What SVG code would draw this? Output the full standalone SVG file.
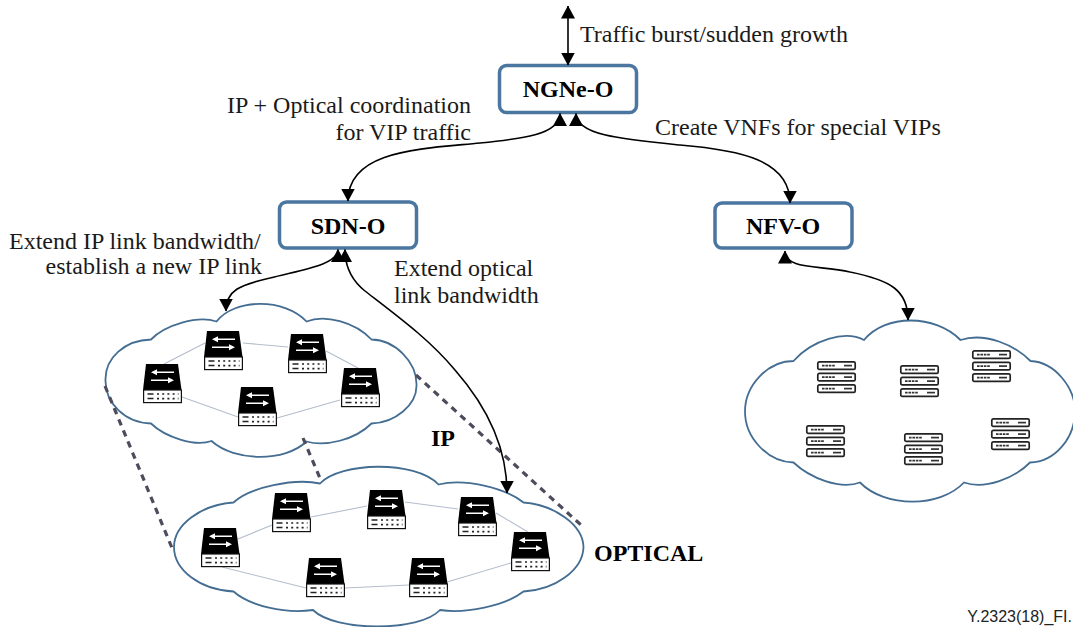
<svg xmlns="http://www.w3.org/2000/svg" width="1073" height="627" viewBox="0 0 1073 627">
<style>
.t{font-family:"Liberation Serif","Times New Roman",serif;font-size:24px;fill:#1a1a1a}
.b{font-weight:bold;fill:#000}
.c{text-anchor:middle}
.box{fill:#fff;stroke:#4a76a0;stroke-width:3.5}
.cloud{fill:#fff;stroke:#446d92;stroke-width:1.8}
.dash{fill:none;stroke:#4c4c5c;stroke-width:3.2;stroke-dasharray:6.5 5.5}
.conn{fill:none;stroke:#000;stroke-width:1.6;marker-start:url(#ah);marker-end:url(#ah)}
.link{stroke:#b4bdcb;stroke-width:1.1;fill:none}
</style>
<defs>
<marker id="ah" viewBox="0 0 13 14" refX="12.5" refY="7" markerWidth="13" markerHeight="14" markerUnits="userSpaceOnUse" orient="auto-start-reverse"><path d="M0 0L13 7L0 14Z" fill="#000"/></marker>
<g id="router">
<path d="M3 0H35L38.5 26H0Z" fill="#000"/>
<rect x="0.6" y="26" width="37.8" height="12.6" fill="#fff" stroke="#111" stroke-width="1.2"/>
<path d="M10 8.2H31M8 16.2H29" stroke="#fff" stroke-width="1.4"/>
<path d="M8 8.2L14 5.2V11.2ZM31 16.2L25 13.2V19.2Z" fill="#fff"/>
<path d="M4.5 30H10.5M4.5 34.6H10.5" stroke="#222" stroke-width="1.5"/>
<path d="M14 30H35.5M14 34.6H35.5" stroke="#222" stroke-width="1.6" stroke-dasharray="2 3.2"/>
</g>
<g id="srv">
<rect x="0.8" y="0.8" width="37.4" height="7.6" rx="1.5" fill="#fff" stroke="#222" stroke-width="1.7"/>
<path d="M5 4.6H18.5" stroke="#333" stroke-width="1.7" stroke-dasharray="2.6 .8"/>
<path d="M27 4.6H35" stroke="#333" stroke-width="1.7"/>
</g>
<g id="server"><use href="#srv"/><use href="#srv" y="11.5"/><use href="#srv" y="23"/></g>
</defs>

<g id="cloud-nfv"><path class="cloud" d="M793.5 361C812 340 845 330 864 340C885 314 935 314 960.5 340C985 332 1015 345 1030.5 361C1055 362 1075 388 1075 411C1075 438 1055 462 1030 462.5C1015 478 985 490 964 482.5C940 508 885 508 860 482.5C840 490 810 478 793.5 462.5C768 462 745 438 745 411.5C745 385 768 361 793.5 361Z"/></g>
<g id="cloud-ip"><path class="cloud" d="M151 339.5C165 325 198 315 216.5 321.5C235 298 285 298 306.5 321.5C325 314 355 322 371.5 339.5C395 340 417 362 416.5 385C417 405 395 423 371.5 423.5C355 440 325 447 306.5 441.5C285 462 235 462 211.5 441C195 447 165 437 151 423.5C125 423 105 403 105.5 380C105 358 125 340 151 339.5Z"/></g>

<g id="dashes">
<path class="dash" d="M105 386L172 548"/>
<path class="dash" d="M303 438L322 483"/>
<path class="dash" d="M416 375L581 525"/>
</g>

<g id="cloud-optical"><path class="cloud" d="M233.5 502.5C250 487 295 478 320 483.5C340 462 415 460 438.5 484.5C465 478 505 488 523.5 502.5C555 505 583 525 583.5 547C583 570 555 590 523.5 591.5C505 606 465 614 440 610C420 632 335 632 313 610C285 614 250 606 233.5 591.5C200 590 174 570 174 547C174 525 200 505 233.5 502.5Z"/></g>

<g id="links" class="link">
<path d="M164 364L205 343M243 343L288 347M326 351L358 368M340 400L277 418M238 417L182 397"/>
<path d="M238 539L272 525M311 517L367 506M405 502L458 509M496 513L528 532M511 563L447 582M409 585L345 588M306 588L222 567"/>
</g>

<g id="ip-routers">
<use href="#router" x="204" y="331"/><use href="#router" x="288" y="334"/><use href="#router" x="143" y="364"/><use href="#router" x="238" y="387"/><use href="#router" x="341" y="368"/>
</g>
<g id="optical-routers">
<use href="#router" x="201" y="528"/><use href="#router" x="272" y="493"/><use href="#router" x="367" y="490"/><use href="#router" x="458" y="497"/><use href="#router" x="511" y="532"/><use href="#router" x="306" y="558"/><use href="#router" x="409" y="558"/>
</g>
<g id="servers">
<use href="#server" x="817" y="361"/><use href="#server" x="900" y="365"/><use href="#server" x="972" y="350"/><use href="#server" x="806" y="425"/><use href="#server" x="904" y="433"/><use href="#server" x="991" y="418"/>
</g>

<g id="ngne-o"><rect class="box" x="499.5" y="65.5" width="137" height="47" rx="7"/><text class="t b c" x="568" y="97">NGNe-O</text></g>
<g id="sdn-o"><rect class="box" x="279.5" y="202" width="137" height="46" rx="7"/><text class="t b c" x="348" y="234">SDN-O</text></g>
<g id="nfv-o"><rect class="box" x="715" y="203" width="137" height="45" rx="7"/><text class="t b c" x="783" y="234">NFV-O</text></g>

<g id="connectors">
<path class="conn" d="M568 6V65"/>
<path class="conn" d="M560 113.5C560 135 520 139 480 143C420 149 348 150 348 201"/>
<path class="conn" d="M576 113.5C576 135 620 139 680 145C740 150 790 160 790 203"/>
<path class="conn" d="M338 249.5C338 265 300 270 270 278C240 285 226 290 226 311"/>
<path class="conn" d="M345 249.5C345 270 355 283 365 291C400 318 430 340 455 370C490 410 507 450 507 493"/>
<path class="conn" d="M785 251C785 270 820 265 850 272C890 280 908 290 908 320"/>
</g>

<g id="labels">
<text class="t" x="580" y="42">Traffic burst/sudden growth</text>
<text class="t" x="471" y="113" text-anchor="end">IP + Optical coordination</text>
<text class="t" x="471" y="140" text-anchor="end">for VIP traffic</text>
<text class="t" x="655" y="135">Create VNFs for special VIPs</text>
<text class="t" x="9" y="249">Extend IP link bandwidth/</text>
<text class="t" x="262" y="274" text-anchor="end">establish a new IP link</text>
<text class="t" x="394" y="276">Extend optical</text>
<text class="t" x="394" y="303">link bandwidth</text>
<text class="t b" x="431" y="446">IP</text>
<text class="t b" x="594" y="561">OPTICAL</text>
<text x="1072" y="622" text-anchor="end" font-family="'Liberation Sans',Arial,sans-serif" font-size="16" fill="#222">Y.2323(18)_FI.</text>
</g>
</svg>
